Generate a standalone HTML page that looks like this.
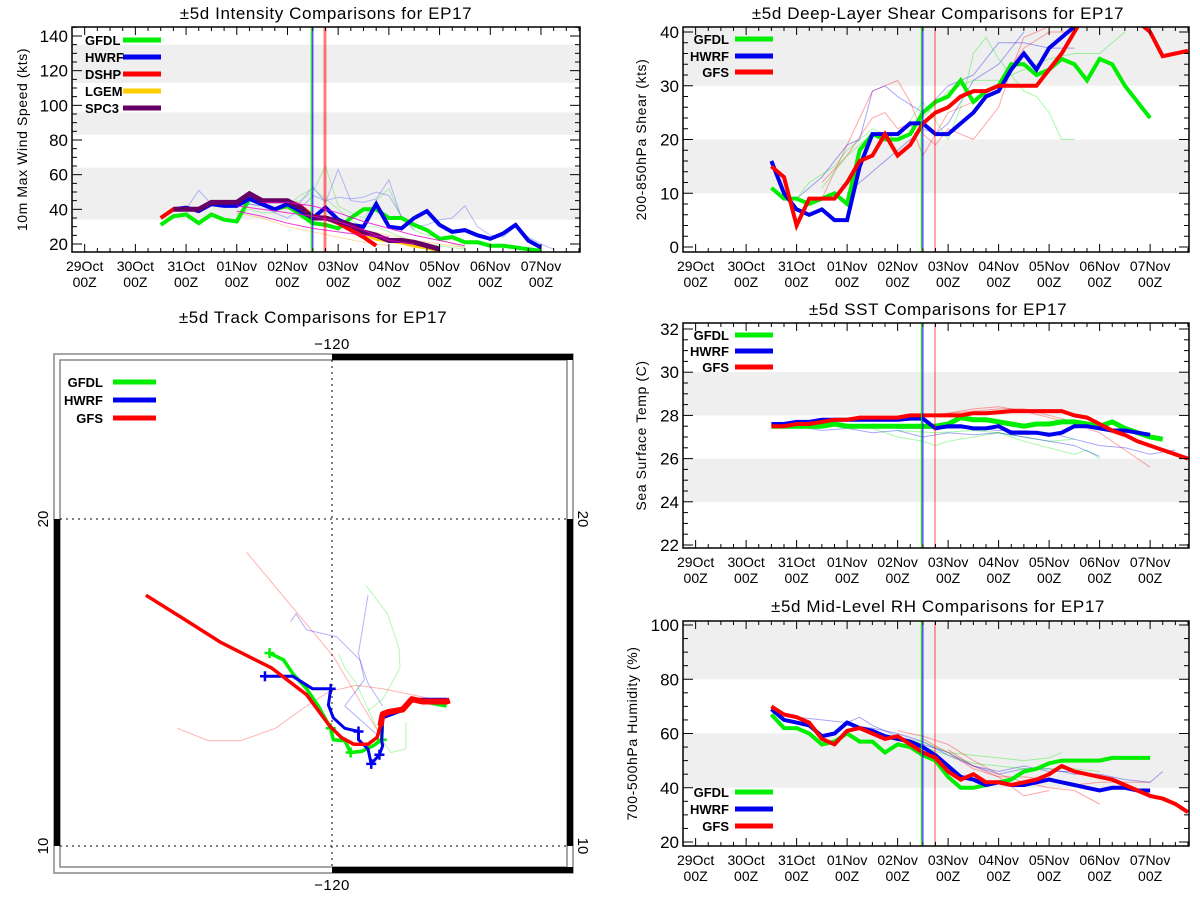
<!DOCTYPE html>
<html><head><meta charset="utf-8"><style>
html,body{margin:0;padding:0;background:#fff;}
svg{display:block;font-family:"Liberation Sans",sans-serif;}
</style></head><body>
<svg id="fig" width="1200" height="900" viewBox="0 0 1200 900" xmlns="http://www.w3.org/2000/svg"></svg>
<script>
// ---------- DATA ----------
const dayLabels = ["29Oct","30Oct","31Oct","01Nov","02Nov","03Nov","04Nov","05Nov","06Nov","07Nov"];
const markerTimes = [4.47, 4.50, 4.74]; // green, blue, red vertical lines (days since 29Oct 00Z)

// Intensity (kts), 6-hourly from start day
const intStartGFDL = 1.5;
const intGFDL = [31,36,37,32,37,34,33,46,43,40,42,37,32,31,29,35,40,40,35,35,31,28,23,24,21,21,19,19,18,17,16];
const intStartHWRF = 1.75;
const intHWRF = [40,41,39,43,42,42,46,43,40,43,39,35,41,34,31,30,43,30,29,35,39,31,27,28,25,23,26,31,22,18];
const intStartDSHP = 1.5;
const intDSHP = [35,40,40,40,44,44,44,49,45,45,45,42,36,35,32,28,24,19];
const intStartLGEM = 4.5;
const intLGEM = [35,35,33,30,26,23,22,21,19,18,16];
const intStartSPC3 = 1.75;
const intSPC3 = [40,40,40,44,44,44,49,45,45,45,41,35,35,33,31,27,25,22,22,21,19,17];
const intFaintBlue1 = [3.0,44,3.25,43,3.5,42,3.75,40,4.0,41,4.25,44,4.5,53,4.75,44,5.0,63,5.25,45,5.5,44,5.75,46,6.0,57,6.25,35,6.5,30,6.75,31,7.0,34,7.25,35,7.5,42,7.75,30,8.0,25,8.25,24,8.5,30,8.75,24,9.0,20,9.25,17];
const intFaintBlue2 = [2.0,40,2.25,51,2.5,43,2.75,42,3.0,42,3.25,43,3.5,42,3.75,38,4.0,35,4.25,40,4.5,48,4.75,45,5.0,47,5.25,46,5.5,47,5.75,50,6.0,48,6.25,36,6.5,28];
const intFaintGreen1 = [3.0,37,3.25,40,3.5,38,3.75,38,4.0,43,4.25,45,4.5,50,4.75,65,5.0,42,5.25,38,5.5,35,5.75,45,6.0,52,6.25,35,6.5,28,6.75,25,7.0,24,7.25,20,7.5,18];
const intFaintGreen2 = [4.0,42,4.25,48,4.5,52,4.75,46,5.0,40,5.25,34,5.5,30,5.75,30,6.0,27,6.25,24,6.5,22,6.75,20,7.0,19,7.25,18,7.5,17];
const intFaintMag1 = [3.0,42,3.5,40,4.0,38,4.5,36,5.0,33,5.5,28,6.0,22,6.5,20];
const intFaintMag2 = [3.5,44,4.0,44,4.5,42,5.0,38,5.5,33,6.0,29,6.5,25,7.0,22,7.5,19];
const intFaintMag3 = [3.0,39,3.5,36,4.0,32,4.5,29,5.0,27,5.5,25,6.0,24];
const intFaintOrange1 = [3.0,38,3.5,35,4.0,30,4.5,27,5.0,24,5.5,21,6.0,19];
const intFaintOrange2 = [3.5,42,4.0,40,4.5,36,5.0,32,5.5,28,6.0,25,6.5,22,7.0,20,7.5,18];

// Shear (kts)
const shrStart = 1.5;
const shrGFDL = [11,9,9,8,9,10,8,18,21,20,20,21,25,27,28,31,27,29,30,34,34,32,33,35,34,31,35,34,30,27,24];
const shrHWRF = [16,10,7,6,7,5,5,15,21,21,21,23,23,21,21,23,25,28,29,33,36,33,37,39,41];
const shrGFS = [15,13,4,9,9,9,12,16,17,21,17,19,23,25,26,28,29,29,30,30,30,30,33,36,40,44,47,46,44,42,40,35.5,36,36.5];
const shrFaintRed1 = [2.5,9,3.0,19,3.5,29,4.0,31,4.25,27,4.5,21,4.75,19,5.0,22,5.5,20,6.0,26,6.25,33,6.5,39,7.0,41];
const shrFaintRed2 = [2.5,12,3.0,17,3.5,24,3.75,25,4.0,22,4.25,23,4.5,17,5.0,25,5.5,27,6.0,30,6.5,37,7.0,40,7.5,40];
const shrFaintBlue1 = [2.0,9,2.5,13,3.0,19,3.25,20,3.5,29,3.75,30,4.0,28,4.5,25,5.0,30,5.5,32,6.0,38,6.5,38,7.0,37,7.5,37];
const shrFaintBlue2 = [3.0,10,3.5,14,4.0,18,4.5,22,4.75,21,5.0,23,5.5,31,6.0,34,6.5,40];
const shrFaintGreen1 = [2.0,9,2.25,12,2.75,15,3.0,18,3.5,22,4.0,20,4.5,27,5.0,20,5.25,26,5.5,36,5.75,39,6.0,35,6.5,29,6.75,28,7.0,25,7.25,20,7.5,20];
const shrFaintGreen2 = [2.5,11,3.0,17,3.5,21,4.0,21,4.5,24,5.0,29,5.5,31,6.0,31,6.5,33,7.0,35,7.5,36,8.0,36,8.5,40];

// SST (C)
const sstStart = 1.5;
const sstGFDL = [27.5,27.5,27.5,27.5,27.5,27.6,27.5,27.5,27.5,27.5,27.5,27.5,27.5,27.5,27.6,27.9,27.8,27.8,27.7,27.6,27.5,27.6,27.6,27.7,27.7,27.6,27.5,27.7,27.4,27.2,27.0,26.9];
const sstHWRF = [27.6,27.6,27.7,27.7,27.8,27.8,27.8,27.8,27.8,27.8,27.8,27.85,27.85,27.4,27.5,27.5,27.4,27.4,27.5,27.2,27.2,27.2,27.1,27.2,27.5,27.5,27.4,27.3,27.3,27.2,27.1];
const sstGFS = [27.5,27.5,27.6,27.6,27.7,27.8,27.8,27.9,27.9,27.9,27.9,28.0,28.0,28.0,28.0,28.0,28.1,28.1,28.15,28.2,28.2,28.2,28.2,28.2,28.0,27.9,27.6,27.3,27.1,26.8,26.6,26.4,26.2,26.0];
const sstFaintGreen1 = [3.5,27.4,4.0,27.0,4.5,26.8,4.75,26.6,5.0,26.8,5.5,27.0,6.0,27.2,6.5,26.8,7.0,26.5,7.5,26.2,7.75,26.4,8.0,26.0];
const sstFaintGreen2 = [4.0,27.3,4.75,27.2,5.5,27.3,6.0,27.2,6.5,27.0,7.0,26.8,7.5,26.9];
const sstFaintBlue1 = [2.0,27.5,2.5,27.3,3.0,27.4,3.5,27.2,4.0,27.3,4.5,27.0,5.0,27.2,5.5,27.1,6.0,27.2,6.5,27.0,7.0,26.8,7.5,26.6,8.0,26.1];
const sstFaintBlue2 = [3.5,27.6,4.0,27.4,4.5,27.4,5.0,27.4,5.5,27.4,6.0,27.3,6.5,27.3,7.0,27.2,7.5,26.9,8.0,26.6,8.5,26.5,9.0,26.2,9.5,26.4];
const sstFaintRed1 = [5.0,28.1,5.5,28.3,6.0,28.4,6.5,28.2,7.0,27.9,7.5,27.6,8.0,27.2,8.5,26.4,9.0,25.6];
const sstFaintRed2 = [4.5,28.0,5.0,28.1,5.5,28.2,6.0,28.3,6.5,28.3,7.0,28.0,7.5,27.7,8.0,27.4,8.5,27.0];

// RH (%)
const rhStart = 1.5;
const rhGFDL = [67,62,62,60,56,57,60,57,57,53,56,55,52,50,44,40,40,41,42,43,46,47,49,50,50,50,50,51,51,51,51];
const rhHWRF = [69,65,64,63,59,60,64,62,61,59,58,57,55,52,48,44,43,41,42,41,41,42,43,42,41,40,39,40,40,39,39];
const rhGFS = [70,67,66,64,58,56,61,62,60,58,59,56,53,51,46,43,45,42,42,41,42,43,45,48,46,45,44,43,41,39,37,36,34,31];
const rhFaintBlue1 = [2.0,66,2.5,65,3.0,64,3.25,66,3.5,63,4.0,59,4.5,56,5.0,53,5.5,48,6.0,45,6.5,47,7.0,47,7.5,45,8.0,45,8.5,43,9.0,42,9.25,46];
const rhFaintBlue2 = [3.0,63,3.5,62,4.0,60,4.5,57,5.0,52,5.5,48,6.0,46,6.5,48,7.0,46,7.5,46,8.0,44];
const rhFaintGreen1 = [4.0,58,4.5,57,5.0,53,5.5,52,6.0,51,6.5,50,7.0,51,7.25,53];
const rhFaintGreen2 = [4.5,55,5.0,52,5.5,49,6.0,48,6.5,47,7.0,47,7.5,47,8.0,46];
const rhFaintRed1 = [4.0,61,4.5,59,5.0,56,5.5,50,6.0,45,6.5,42,7.0,40,7.5,39,8.0,34];
const rhFaintRed2 = [5.0,54,5.5,48,6.0,44,6.5,37,7.0,39];
const rhFaintRed3 = [4.5,58,5.0,53,5.5,47,6.0,44,6.5,44,7.0,43,7.5,41,8.0,42,8.5,42,9.0,42];

// Tracks (lon, lat pairs)
const trkGFSLon = [-125.69,-124.56,-123.39,-121.84,-120.78,-120.07,-119.72,-119.33,-118.90,-118.62,-118.52,-118.45,-118.27,-117.84,-117.56,-117.24,-116.50,-116.40];
const trkGFSLat = [17.67,16.96,16.22,15.44,14.63,13.67,13.32,13.11,13.11,13.32,13.67,14.03,14.10,14.17,14.49,14.42,14.42,14.45];
const trkGFDLLon = [-121.91,-121.48,-121.20,-120.78,-120.42,-120.04,-119.96,-119.61,-119.43,-119.08,-118.73,-118.48,-118.45,-118.27,-117.84,-117.56,-117.24,-116.50];
const trkGFDLLat = [15.90,15.69,15.27,14.81,14.28,13.60,13.25,13.22,12.86,12.90,13.07,13.25,14.03,14.10,14.17,14.49,14.42,14.28];
const trkHWRFLon = [-122.05,-121.20,-120.60,-120.04,-120.11,-119.96,-119.61,-119.19,-119.19,-118.90,-118.80,-118.55,-118.45,-118.48,-118.45,-117.95,-117.49,-116.47];
const trkHWRFLat = [15.19,15.19,14.81,14.81,14.31,13.92,13.60,13.50,13.25,12.97,12.51,12.79,13.07,13.22,13.92,14.10,14.49,14.49];
const trkFaintRed1 = [-122.61,18.98,-119.96,15.80,-118.55,13.43];
const trkFaintRed2 = [-124.73,13.60,-123.78,13.22,-122.79,13.22,-121.73,13.60,-120.78,14.28,-120.07,14.73,-119.26,14.91,-118.45,14.81,-116.89,14.49];
const trkFaintBlue1 = [-121.27,16.86,-121.10,17.10,-120.78,16.61,-119.86,16.40,-119.15,15.69,-118.90,14.98,-118.45,14.28];
const trkFaintBlue2 = [-118.90,17.67,-119.19,15.90,-119.01,15.09,-119.61,14.28,-118.66,13.43];
const trkFaintGreen1 = [-118.98,17.99,-118.30,17.10,-117.95,16.04,-117.92,15.44,-118.45,14.49,-118.90,14.13];
const trkFaintGreen2 = [-119.79,15.87,-119.61,15.44,-119.26,14.98,-118.45,13.22,-118.20,12.86,-117.74,12.97,-117.74,13.78];

// ---------- DRAWING ----------
const NS = "http://www.w3.org/2000/svg";
const fig = document.getElementById("fig");
function mk(tag, attrs, parent) {
  const e = document.createElementNS(NS, tag);
  for (const k in attrs) e.setAttribute(k, attrs[k]);
  (parent || fig).appendChild(e);
  return e;
}
function txt(s, attrs, parent) { const t = mk("text", attrs, parent); t.textContent = s; return t; }

function seriesPts(start, vals, sx, sy) {
  return vals.map((v, i) => sx(start + i * 0.25).toFixed(1) + "," + sy(v).toFixed(1)).join(" ");
}
function pairPts(arr, sx, sy) {
  const p = [];
  for (let i = 0; i < arr.length; i += 2) p.push(sx(arr[i]).toFixed(1) + "," + sy(arr[i + 1]).toFixed(1));
  return p.join(" ");
}

function timePanel(cfg) {
  const g = mk("g", {});
  
  
  const X0 = cfg.x0, X1 = cfg.x1, Y0 = cfg.y0, Y1 = cfg.y1;
  const dmin = -0.25, dmax = 9.77;
  const sx = d => X0 + (d - dmin) / (dmax - dmin) * (X1 - X0);
  const sy = v => cfg.py0 + (v - cfg.v0) / (cfg.v1 - cfg.v0) * (cfg.py1 - cfg.py0);
  const clipId = "clip-" + cfg.name;
  const cp = mk("clipPath", { id: clipId }, g);
  mk("rect", { x: X0, y: Y0, width: X1 - X0, height: Y1 - Y0 }, cp);
  // bands
  cfg.bands.forEach(b => {
    const top = Math.max(Y0, sy(b[1])), bot = Math.min(Y1, sy(b[0]));
    const r = mk("rect", { x: X0, y: top, width: X1 - X0, height: bot - top, fill: "#efefef" }, g);
    
    
  });
  // title
  const t = txt(cfg.title, { x: cfg.tx, y: cfg.ty, "font-size": 17, "text-anchor": "middle", "letter-spacing": "0.6" }, g);
  
  
  // y title
  const yt = txt(cfg.ytitle, { x: 0, y: 0, "font-size": 14, "text-anchor": "middle", transform: `translate(${cfg.ytx},${(Y0 + Y1) / 2}) rotate(-90)`, "letter-spacing": "0.6" }, g);
  
  
  // plot contents clipped
  const pc = mk("g", { "clip-path": `url(#${clipId})` }, g);
  cfg.faint.forEach(f => {
    const pl = mk("polyline", { points: pairPts(f[0], sx, sy), fill: "none", stroke: f[1], "stroke-width": 1, opacity: 0.35 }, pc);
    
    
  });
  cfg.series.forEach(s => {
    const pl = mk("polyline", { points: seriesPts(s.start, s.vals, sx, sy), fill: "none", stroke: s.color, "stroke-width": s.w || 4, "stroke-linejoin": "miter", "stroke-miterlimit": 3 }, pc);
    
    
  });
  const mcols = ["#00dd00", "#0000ff", "#ff0000"];
  markerTimes.forEach((m, i) => {
    const l = mk("line", { x1: sx(m), x2: sx(m), y1: Y0, y2: Y1, stroke: mcols[i], "stroke-width": 1, opacity: i == 2 ? 0.7 : 1 }, g);
    
    
  });
  if (cfg.dshpBand) {
    const r = mk("rect", { x: sx(markerTimes[2]) - 2, y: Y0, width: 4, height: Y1 - Y0, fill: "#ff0000", opacity: 0.25 }, g);
    
    
  }
  // axes box
  const box = mk("rect", { x: X0, y: Y0, width: X1 - X0, height: Y1 - Y0, fill: "none", stroke: "#000", "stroke-width": 1.5 }, g);
  
  
  // x ticks
  for (let q = -1; q <= 39; q++) {
    const d = q * 0.25; if (d < dmin || d > dmax) continue;
    const major = q % 4 === 0;
    const len = major ? 8 : 4;
    mk("line", { x1: sx(d), x2: sx(d), y1: Y1, y2: Y1 - len, stroke: "#000" }, g);
    mk("line", { x1: sx(d), x2: sx(d), y1: Y0, y2: Y0 + len, stroke: "#000" }, g);
  }
  dayLabels.forEach((lab, i) => {
    const a = txt(lab, { x: sx(i), y: Y1 + 19, "font-size": 14, "text-anchor": "middle" }, g);
    
    
    const b = txt("00Z", { x: sx(i), y: Y1 + 35, "font-size": 14, "text-anchor": "middle" }, g);
    
    
  });
  // y ticks
  for (let v = cfg.tmin; v <= cfg.tmax + 1e-9; v += cfg.minor) {
    const yy = sy(v); if (yy < Y0 - 0.5 || yy > Y1 + 0.5) continue;
    const major = Math.abs(((v - cfg.lmin) / cfg.major) - Math.round((v - cfg.lmin) / cfg.major)) < 1e-6;
    const len = major ? 10 : 5;
    mk("line", { x1: X0, x2: X0 + len, y1: yy, y2: yy, stroke: "#000" }, g);
    mk("line", { x1: X1, x2: X1 - len, y1: yy, y2: yy, stroke: "#000" }, g);
  }
  for (let v = cfg.lmin; v <= cfg.lmax + 1e-9; v += cfg.major) {
    const l = txt(String(v), { x: X0 - 4, y: sy(v) + 6, "font-size": 17, "text-anchor": "end" }, g);
    
    
  }
  // legend
  cfg.legend.forEach((e, i) => {
    const yy = cfg.legY[i];
    const lg = mk("g", {}, g);
    
    
    txt(e[0], { x: cfg.legTx, y: yy + 5, "font-size": 13, "font-weight": "bold", "text-anchor": cfg.legAnchor }, lg);
    mk("line", { x1: cfg.legL0, x2: cfg.legL1, y1: yy, y2: yy, stroke: e[1], "stroke-width": 5 }, lg);
  });
}

const G = "#00ee00", B = "#0000ee", R = "#ff0000";
timePanel({
  name: "intensity-panel", title: "\u00b15d Intensity Comparisons for EP17", tx: 326, ty: 19,
  ytitle: "10m Max Wind Speed (kts)", ytx: 27,
  x0: 72, x1: 580, y0: 27, y1: 252, py0: 244, py1: 36, v0: 20, v1: 140,
  bands: [[34, 64], [83, 96], [113, 135]],
  tmin: 15, tmax: 145, minor: 5, lmin: 20, lmax: 140, major: 20,
  faint: [[intFaintBlue1, "#3344ff"], [intFaintBlue2, "#3344ff"], [intFaintGreen1, "#33dd33"], [intFaintGreen2, "#33dd33"],
          [intFaintOrange1, "#ff9900"], [intFaintOrange2, "#ff9900"]],
  series: [
    { name: "gfdl-intensity-line", start: intStartGFDL, vals: intGFDL, color: G },
    { name: "hwrf-intensity-line", start: intStartHWRF, vals: intHWRF, color: B },
    { name: "lgem-intensity-line", start: intStartLGEM, vals: intLGEM, color: "#ffcc00" },
    { name: "dshp-intensity-line", start: intStartDSHP, vals: intDSHP, color: R },
    { name: "spc3-intensity-line", start: intStartSPC3, vals: intSPC3, color: "#660066", w: 5 }
  ],
  legend: [["GFDL", G], ["HWRF", B], ["DSHP", R], ["LGEM", "#ffcc00"], ["SPC3", "#660066"]],
  legY: [40, 57, 74, 91, 108], legTx: 85, legAnchor: "start", legL0: 123, legL1: 161, dshpBand: true
});
// magenta faint lines on intensity (drawn separately, more visible)
(function () {
  const sx = d => 72 + (d + 0.25) / 10.02 * 508;
  const sy = v => 244 + (v - 20) / 120 * (36 - 244);
  [intFaintMag1, intFaintMag2, intFaintMag3].forEach(a => {
    const pl = mk("polyline", { points: pairPts(a, sx, sy), fill: "none", stroke: "#ee00cc", "stroke-width": 1, opacity: 0.8 });
    
    
  });
})();

timePanel({
  name: "shear-panel", title: "\u00b15d Deep-Layer Shear Comparisons for EP17", tx: 938, ty: 19,
  ytitle: "200-850hPa Shear (kts)", ytx: 646,
  x0: 683, x1: 1189, y0: 27, y1: 252, py0: 247, py1: 32, v0: 0, v1: 40,
  bands: [[10, 20], [30, 40.8]],
  tmin: 0, tmax: 40, minor: 2, lmin: 0, lmax: 40, major: 10,
  faint: [[shrFaintRed1, R], [shrFaintRed2, R], [shrFaintBlue1, B], [shrFaintBlue2, B], [shrFaintGreen1, G], [shrFaintGreen2, G]],
  series: [
    { name: "gfdl-shear-line", start: shrStart, vals: shrGFDL, color: G },
    { name: "hwrf-shear-line", start: shrStart, vals: shrHWRF, color: B },
    { name: "gfs-shear-line", start: shrStart, vals: shrGFS, color: R }
  ],
  legend: [["GFDL", G], ["HWRF", B], ["GFS", R]],
  legY: [39, 56, 72], legTx: 729, legAnchor: "end", legL0: 735, legL1: 773
});

timePanel({
  name: "sst-panel", title: "\u00b15d SST Comparisons for EP17", tx: 938, ty: 315,
  ytitle: "Sea Surface Temp (C)", ytx: 646,
  x0: 683, x1: 1189, y0: 323, y1: 548, py0: 545, py1: 329, v0: 22, v1: 32,
  bands: [[24, 26], [28, 30]],
  tmin: 22, tmax: 32, minor: 0.5, lmin: 22, lmax: 32, major: 2,
  faint: [[sstFaintGreen1, G], [sstFaintGreen2, G], [sstFaintBlue1, B], [sstFaintBlue2, B], [sstFaintRed1, R], [sstFaintRed2, R]],
  series: [
    { name: "gfdl-sst-line", start: sstStart, vals: sstGFDL, color: G, w: 5 },
    { name: "hwrf-sst-line", start: sstStart, vals: sstHWRF, color: B },
    { name: "gfs-sst-line", start: sstStart, vals: sstGFS, color: R }
  ],
  legend: [["GFDL", G], ["HWRF", B], ["GFS", R]],
  legY: [335, 351, 367], legTx: 729, legAnchor: "end", legL0: 735, legL1: 773
});

timePanel({
  name: "rh-panel", title: "\u00b15d Mid-Level RH Comparisons for EP17", tx: 938, ty: 612,
  ytitle: "700-500hPa Humidity (%)", ytx: 637,
  x0: 683, x1: 1189, y0: 621, y1: 846, py0: 842, py1: 625, v0: 20, v1: 100,
  bands: [[40, 60], [80, 101]],
  tmin: 20, tmax: 100, minor: 5, lmin: 20, lmax: 100, major: 20,
  faint: [[rhFaintBlue1, B], [rhFaintBlue2, B], [rhFaintGreen1, G], [rhFaintGreen2, G], [rhFaintRed1, R], [rhFaintRed2, R], [rhFaintRed3, R]],
  series: [
    { name: "gfdl-rh-line", start: rhStart, vals: rhGFDL, color: G },
    { name: "hwrf-rh-line", start: rhStart, vals: rhHWRF, color: B },
    { name: "gfs-rh-line", start: rhStart, vals: rhGFS, color: R }
  ],
  legend: [["GFDL", G], ["HWRF", B], ["GFS", R]],
  legY: [792, 809, 826], legTx: 729, legAnchor: "end", legL0: 735, legL1: 773
});

// ---------- TRACK MAP ----------
(function () {
  const g = mk("g", {});
  
  
  const IX0 = 60, IX1 = 567, IY0 = 360, IY1 = 867;
  const lon0 = -120, px0 = 332, lat0 = 20, py0 = 519, sc = 32.7;
  const sx = lon => px0 + (lon - lon0) * sc;
  const sy = lat => py0 - (lat - lat0) * sc;
  const t = txt("\u00b15d Track Comparisons for EP17", { x: 313, y: 323, "font-size": 17, "text-anchor": "middle", "letter-spacing": "0.6" }, g);
  
  
  const ob = mk("rect", { x: 54, y: 354, width: 519, height: 519, fill: "none", stroke: "#888", "stroke-width": 1.5 }, g);
  
  
  const ib = mk("rect", { x: IX0, y: IY0, width: IX1 - IX0, height: IY1 - IY0, fill: "none", stroke: "#888", "stroke-width": 1.5 }, g);
  
  
  // black border bars
  const bars = [[sx(-120), 354, 573 - sx(-120), 6], [sx(-120), 867, 573 - sx(-120), 6], [54, sy(20), 6, sy(10) - sy(20)], [567, sy(20), 6, sy(10) - sy(20)]];
  bars.forEach(b => {
    const r = mk("rect", { x: b[0], y: b[1], width: b[2], height: b[3], fill: "#000" }, g);
    
    
  });
  // grid
  [[sx(-120), IY0, sx(-120), IY1], [IX0, sy(20), IX1, sy(20)], [IX0, sy(10), IX1, sy(10)]].forEach(l => {
    const e = mk("line", { x1: l[0], y1: l[1], x2: l[2], y2: l[3], stroke: "#000", "stroke-width": 1, "stroke-dasharray": "2,4" }, g);
    
    
  });
  const labs = [["\u2212120", sx(-120), 349, 0], ["\u2212120", sx(-120), 890, 0]];
  labs.forEach(l => {
    const e = txt(l[0], { x: l[1], y: l[2], "font-size": 15, "text-anchor": "middle", "letter-spacing": "0.5" }, g);
    
    
  });
  [[20, 48, -90], [10, 48, -90], [20, 578, 90], [10, 578, 90]].forEach(l => {
    const e = txt(String(l[0]), { x: 0, y: 0, "font-size": 15, "text-anchor": "middle", transform: `translate(${l[1] + (l[2] < 0 ? 0 : 0)},${sy(l[0])}) rotate(${l[2]})` }, g);
    
    
  });
  [[trkFaintRed1, R], [trkFaintRed2, R], [trkFaintBlue1, B], [trkFaintBlue2, B], [trkFaintGreen1, G], [trkFaintGreen2, G]].forEach(f => {
    const pl = mk("polyline", { points: pairPts(f[0], sx, sy), fill: "none", stroke: f[1], "stroke-width": 1, opacity: 0.3 }, g);
    
    
  });
  function track(lons, lats, col, name, w, crosses) {
    const p = lons.map((lo, i) => sx(lo).toFixed(1) + "," + sy(lats[i]).toFixed(1)).join(" ");
    const pl = mk("polyline", { points: p, fill: "none", stroke: col, "stroke-width": w, "stroke-linejoin": "round" }, g);
    
    
    crosses.forEach(i => {
      const cx = sx(lons[i]), cy = sy(lats[i]);
      mk("path", { d: `M${cx - 5},${cy}H${cx + 5}M${cx},${cy - 5}V${cx !== 0 ? cy + 5 : 0}`, stroke: col, "stroke-width": 2.5 }, g);
    });
  }
  track(trkGFDLLon, trkGFDLLat, G, "gfdl-track-line", 3.5, [0, 5, 8, 11]);
  track(trkHWRFLon, trkHWRFLat, B, "hwrf-track-line", 3, [0, 3, 7, 10, 11]);
  track(trkGFSLon, trkGFSLat, R, "gfs-track-line", 3.5, []);
  // thicker overlap segment
  const ov = trkGFSLon.slice(10).map((lo, i) => sx(lo).toFixed(1) + "," + sy(trkGFSLat[10 + i]).toFixed(1)).join(" ");
  const o = mk("polyline", { points: ov, fill: "none", stroke: R, "stroke-width": 6, "stroke-linejoin": "round" }, g);
  
  
  [["GFDL", G, 382], ["HWRF", B, 400], ["GFS", R, 418]].forEach(e => {
    const lg = mk("g", {}, g);
    
    
    txt(e[0], { x: 103, y: e[2] + 5, "font-size": 13, "font-weight": "bold", "text-anchor": "end" }, lg);
    mk("line", { x1: 113, x2: 156, y1: e[2], y2: e[2], stroke: e[1], "stroke-width": 5 }, lg);
  });
})();
</script>
</body></html>
